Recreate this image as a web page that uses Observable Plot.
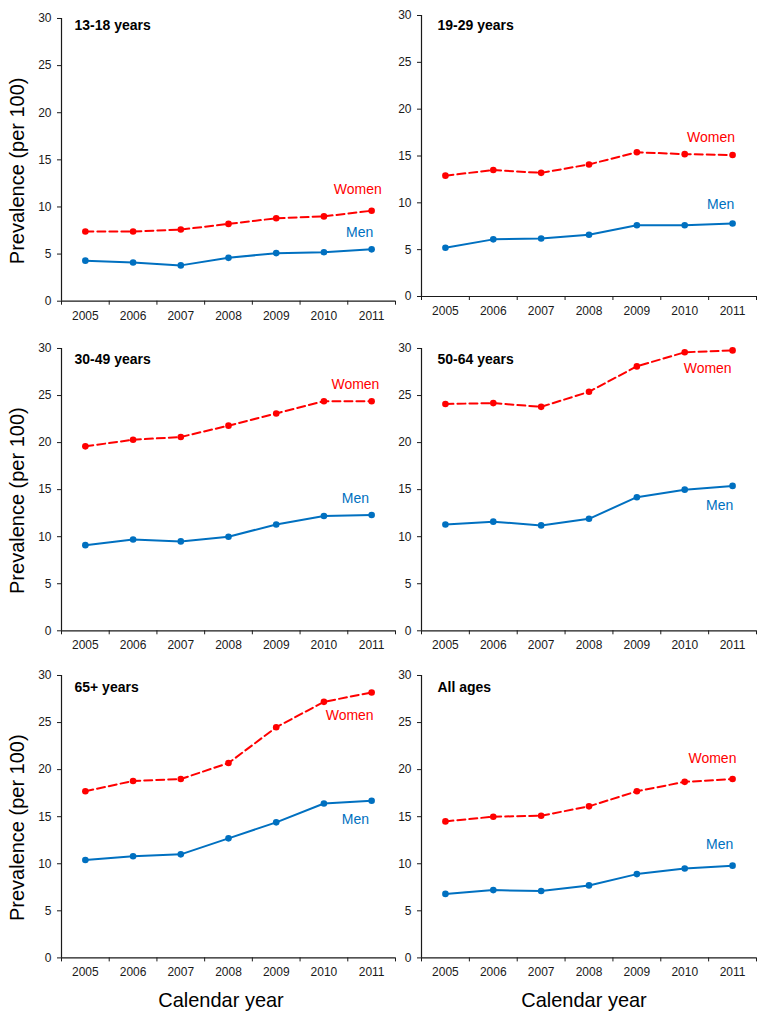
<!DOCTYPE html>
<html><head><meta charset="utf-8">
<script src="https://cdn.jsdelivr.net/npm/d3@7"></script>
<script src="https://cdn.jsdelivr.net/npm/@observablehq/plot@0.6"></script>
<style>
body{margin:0;background:#fff;font-family:"Liberation Sans",Arial,sans-serif;}
#chart{position:relative;width:766px;height:1021px;overflow:hidden;background:#fff;}
#chart svg{position:absolute;}
</style></head><body><div id="chart"></div>
<script>
// ---------- data ----------
const years = [2005, 2006, 2007, 2008, 2009, 2010, 2011];
const panelTitles = ["13-18 years", "19-29 years", "30-49 years", "50-64 years", "65+ years", "All ages"];
const seriesNames = ["Women", "Men"];
const yTicks = [0, 5, 10, 15, 20, 25, 30];
const yLabel = "Prevalence (per 100)";
const xLabel = "Calendar year";

const women_13_18 = [7.4, 7.4, 7.6, 8.2, 8.8, 9.0, 9.6];
const men_13_18   = [4.3, 4.1, 3.8, 4.6, 5.1, 5.2, 5.5];
const women_19_29 = [12.9, 13.5, 13.2, 14.1, 15.4, 15.2, 15.1];
const men_19_29   = [5.2, 6.1, 6.2, 6.6, 7.6, 7.6, 7.8];
const women_30_49 = [19.6, 20.3, 20.6, 21.8, 23.1, 24.4, 24.4];
const men_30_49   = [9.1, 9.7, 9.5, 10.0, 11.3, 12.2, 12.3];
const women_50_64 = [24.1, 24.2, 23.8, 25.4, 28.1, 29.6, 29.8];
const men_50_64   = [11.3, 11.6, 11.2, 11.9, 14.2, 15.0, 15.4];
const women_65    = [17.7, 18.8, 19.0, 20.7, 24.5, 27.2, 28.2];
const men_65      = [10.4, 10.8, 11.0, 12.7, 14.4, 16.4, 16.7];
const women_all   = [14.5, 15.0, 15.1, 16.1, 17.7, 18.7, 19.0];
const men_all     = [6.8, 7.2, 7.1, 7.7, 8.9, 9.5, 9.8];

const womenSeries = [women_13_18, women_19_29, women_30_49, women_50_64, women_65, women_all];
const menSeries   = [men_13_18, men_19_29, men_30_49, men_50_64, men_65, men_all];

// series-label anchors (data units: year, prevalence)
const womenLabelAt = [[2010.71, 11.86], [2010.55, 16.94], [2010.66, 26.14], [2010.48, 27.84], [2010.54, 25.78], [2010.58, 21.22]];
const menLabelAt   = [[2010.75, 7.29], [2010.75, 9.79], [2010.66, 14.03], [2010.73, 13.28], [2010.66, 14.74], [2010.73, 12.08]];

// ---------- layout / style ----------
const RED = "#ff0000", BLUE = "#0070c0", AXIS = "#1a1a1a";
const FONT = "'Liberation Sans', Arial, sans-serif";
const layout = [
  {left: 0,   w: 400, fl: 61,  fr: 395, y30: 18,    y0: 300.7, tx: 74,  ty: 25,  ylab: true,  xlab: false},
  {left: 383, w: 383, fl: 421, fr: 756, y30: 14.7,  y0: 295.7, tx: 437, ty: 25,  ylab: false, xlab: false},
  {left: 0,   w: 400, fl: 61,  fr: 395, y30: 347.7, y0: 630,   tx: 74,  ty: 359, ylab: true,  xlab: false},
  {left: 383, w: 383, fl: 421, fr: 756, y30: 347.7, y0: 630,   tx: 437, ty: 359, ylab: false, xlab: false},
  {left: 0,   w: 400, fl: 61,  fr: 395, y30: 675.3, y0: 957.7, tx: 74,  ty: 687, ylab: true,  xlab: true},
  {left: 383, w: 383, fl: 421, fr: 756, y30: 675.3, y0: 957.7, tx: 437, ty: 687, ylab: false, xlab: true}
];

const boundaries = years.map(y => y - 0.5).concat([years[years.length - 1] + 0.5]);
const chart = document.getElementById("chart");

layout.forEach((L, i) => {
  const women = years.map((yr, k) => ({year: yr, value: womenSeries[i][k]}));
  const men = years.map((yr, k) => ({year: yr, value: menSeries[i][k]}));
  const mt = 20;
  const mb = L.xlab ? 60 : 40;
  const top = L.y30 - mt;
  const height = mt + (L.y0 - L.y30) + mb;
  const marks = [
    Plot.axisY({ticks: yTicks, tickSize: 4, tickPadding: 6, fontSize: 12, stroke: AXIS, fill: AXIS, label: null}),
    Plot.axisX({ticks: years, tickSize: 0, tickPadding: 10, fontSize: 12, fill: AXIS, tickFormat: d => String(d), label: null}),
    Plot.axisX({ticks: boundaries, tickSize: 4, stroke: AXIS, tickFormat: () => "", label: null}),
    Plot.ruleY([0], {stroke: AXIS, strokeWidth: 1.2}),
    Plot.ruleX([boundaries[0]], {stroke: AXIS, strokeWidth: 1.2}),
    Plot.line(men, {x: "year", y: "value", stroke: BLUE, strokeWidth: 2}),
    Plot.dot(men, {x: "year", y: "value", fill: BLUE, r: 3.3}),
    Plot.line(women, {x: "year", y: "value", stroke: RED, strokeWidth: 2, strokeDasharray: "8,4"}),
    Plot.dot(women, {x: "year", y: "value", fill: RED, r: 3.3}),
    Plot.text([seriesNames[0]], {x: () => womenLabelAt[i][0], y: () => womenLabelAt[i][1], text: d => d, fill: RED, fontSize: 14, textAnchor: "middle", lineAnchor: "middle"}),
    Plot.text([seriesNames[1]], {x: () => menLabelAt[i][0], y: () => menLabelAt[i][1], text: d => d, fill: BLUE, fontSize: 14, textAnchor: "middle", lineAnchor: "middle"}),
    Plot.text([panelTitles[i]], {frameAnchor: "top-left", text: d => d, textAnchor: "start", lineAnchor: "middle",
      dx: L.tx - L.fl, dy: L.ty - L.y30, fontSize: 14, fontWeight: "bold", fill: "#000"})
  ];
  if (L.ylab) marks.push(Plot.text([yLabel], {frameAnchor: "left", text: d => d, rotate: -90, textAnchor: "middle", lineAnchor: "middle",
      dx: -44, dy: 11, fontSize: 20, fill: "#000"}));
  if (L.xlab) marks.push(Plot.text([xLabel], {frameAnchor: "bottom", text: d => d, textAnchor: "middle", lineAnchor: "middle",
      dx: i % 2 === 0 ? -7.5 : -5, dy: 42.3, fontSize: 20, fill: "#000"}));

  const svg = Plot.plot({
    width: L.w,
    height: height,
    marginLeft: L.fl - L.left,
    marginRight: L.left + L.w - L.fr,
    marginTop: mt,
    marginBottom: mb,
    x: {type: "linear", domain: [boundaries[0], boundaries[boundaries.length - 1]]},
    y: {type: "linear", domain: [0, 30]},
    style: {fontFamily: FONT, background: "transparent", overflow: "visible"},
    marks
  });
  svg.style.left = L.left + "px";
  svg.style.top = top + "px";
  chart.appendChild(svg);
});
</script></body></html>
